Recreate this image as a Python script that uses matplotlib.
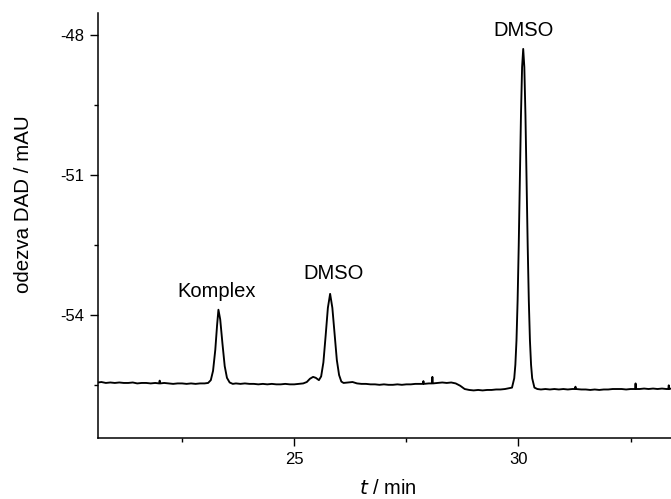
import matplotlib
matplotlib.use("Agg")
import matplotlib.pyplot as plt
from matplotlib.ticker import MultipleLocator

plt.rcParams['font.family'] = ['Liberation Sans', 'DejaVu Sans']

# Chromatogram trace: time (min) and DAD response (mAU)
t_min = [
    20.63, 20.70, 20.80, 20.90, 21.00, 21.10, 21.20, 21.30, 21.40, 21.50,
    21.60, 21.70, 21.80, 21.90, 21.99, 22.00, 22.01, 22.10, 22.20, 22.30,
    22.40, 22.50, 22.60, 22.70, 22.80, 22.90, 23.00, 23.08,
    23.14, 23.19, 23.24, 23.28, 23.31, 23.35, 23.40, 23.45, 23.50, 23.56, 23.63,
    23.70, 23.80, 23.90, 24.00, 24.10, 24.20, 24.30, 24.40, 24.50, 24.60,
    24.70, 24.80, 24.90, 25.00, 25.10, 25.20,
    25.28, 25.35, 25.42, 25.48, 25.55, 25.60, 25.65, 25.70, 25.75, 25.80,
    25.85, 25.90, 25.95, 26.00, 26.05, 26.10,
    26.20, 26.30, 26.40, 26.50, 26.60, 26.70, 26.80, 26.90, 27.00, 27.10,
    27.20, 27.30, 27.40, 27.50, 27.60, 27.70, 27.80, 27.87, 27.88, 27.89,
    28.00, 28.07, 28.08, 28.09, 28.20, 28.30, 28.40, 28.50, 28.60, 28.70,
    28.80, 28.90, 29.00, 29.10, 29.20, 29.30, 29.40, 29.50, 29.60, 29.70, 29.75,
    29.855, 29.905, 29.93, 29.955, 29.98, 30.005, 30.03, 30.055, 30.08, 30.105,
    30.13, 30.155, 30.18, 30.205, 30.23, 30.255, 30.28, 30.305, 30.355, 30.42,
    30.50, 30.60, 30.70, 30.80, 30.90, 31.00, 31.10, 31.20, 31.26, 31.27,
    31.28, 31.40, 31.50, 31.60, 31.70, 31.80, 31.90, 32.00, 32.10, 32.20,
    32.30, 32.40, 32.50, 32.60, 32.61, 32.62, 32.70, 32.80, 32.90, 33.00,
    33.10, 33.20, 33.30, 33.34, 33.35, 33.36, 33.40,
]
response_mAU = [
    -55.45, -55.44, -55.46, -55.45, -55.46, -55.45, -55.46, -55.46, -55.45, -55.47,
    -55.46, -55.46, -55.47, -55.46, -55.47, -55.41, -55.47, -55.46, -55.47, -55.48,
    -55.47, -55.47, -55.48, -55.47, -55.48, -55.47, -55.47, -55.46,
    -55.40, -55.20, -54.75, -54.22, -53.89, -54.10, -54.62, -55.10, -55.35, -55.45, -55.48,
    -55.47, -55.48, -55.47, -55.48, -55.48, -55.49, -55.48, -55.49, -55.48, -55.49,
    -55.49, -55.48, -55.49, -55.49, -55.48, -55.47,
    -55.44, -55.37, -55.33, -55.35, -55.40, -55.32, -55.02, -54.45, -53.85, -53.55,
    -53.85, -54.42, -54.97, -55.29, -55.43, -55.46,
    -55.45, -55.44, -55.47, -55.48, -55.48, -55.49, -55.49, -55.50, -55.49, -55.50,
    -55.50, -55.49, -55.50, -55.49, -55.49, -55.48, -55.48, -55.48, -55.42, -55.48,
    -55.47, -55.47, -55.33, -55.47, -55.46, -55.45, -55.46, -55.45, -55.47, -55.52,
    -55.59, -55.61, -55.62, -55.61, -55.62, -55.61, -55.61, -55.60, -55.60, -55.59, -55.58,
    -55.56, -55.36, -55.07, -54.55, -53.70, -52.52, -51.11, -49.72, -48.69, -48.30,
    -48.69, -49.72, -51.11, -52.52, -53.70, -54.55, -55.07, -55.36, -55.56, -55.59,
    -55.60, -55.59, -55.60, -55.59, -55.60, -55.59, -55.60, -55.59, -55.59, -55.54,
    -55.59, -55.60, -55.60, -55.61, -55.60, -55.61, -55.60, -55.60, -55.59, -55.59,
    -55.59, -55.60, -55.59, -55.59, -55.47, -55.59, -55.59, -55.58, -55.59, -55.58,
    -55.59, -55.58, -55.59, -55.59, -55.51, -55.59, -55.58,
]

peak_labels = ["Komplex", "DMSO", "DMSO"]
x_ticks = [25, 30]
y_ticks = [-54, -51, -48]

fig = plt.figure(figsize=(6.71, 4.99), dpi=100)
ax = fig.add_axes([98 / 671, 1 - 438 / 499, (671 - 98) / 671, (438 - 13) / 499])

ax.plot(t_min, response_mAU, color='black', linewidth=1.35)

ax.set_xlim(20.625, 33.4)
ax.set_ylim(-56.64, -47.53)

ax.set_xticks(x_ticks)
ax.set_yticks(y_ticks)
ax.set_xticklabels([str(v) for v in x_ticks])
ax.set_yticklabels([str(v) for v in y_ticks])
ax.xaxis.set_minor_locator(MultipleLocator(2.5))
ax.yaxis.set_minor_locator(MultipleLocator(1.5))

ax.tick_params(which='major', direction='out', length=6, width=1.0, labelsize=12, pad=4)
ax.tick_params(which='minor', direction='out', length=3, width=1.0)

for side in ['top', 'right']:
    ax.spines[side].set_visible(False)
for side in ['left', 'bottom']:
    ax.spines[side].set_linewidth(1.1)

# peak annotations
label_pos = [(23.28, -53.61), (25.87, -53.23), (30.11, -48.02)]
for txt, (x, y) in zip(peak_labels, label_pos):
    ax.text(x, y, txt, ha='center', va='baseline', fontsize=14.5)

fig.text(24 / 671, 1 - 204 / 499, 'odezva DAD / mAU', rotation=90,
         ha='center', va='center', fontsize=14.8)
fig.text(388 / 671, 1 - 489 / 499, r'$\it{t}$ / min', ha='center', va='center', fontsize=14.5)

fig.savefig('out.png', dpi=100)
